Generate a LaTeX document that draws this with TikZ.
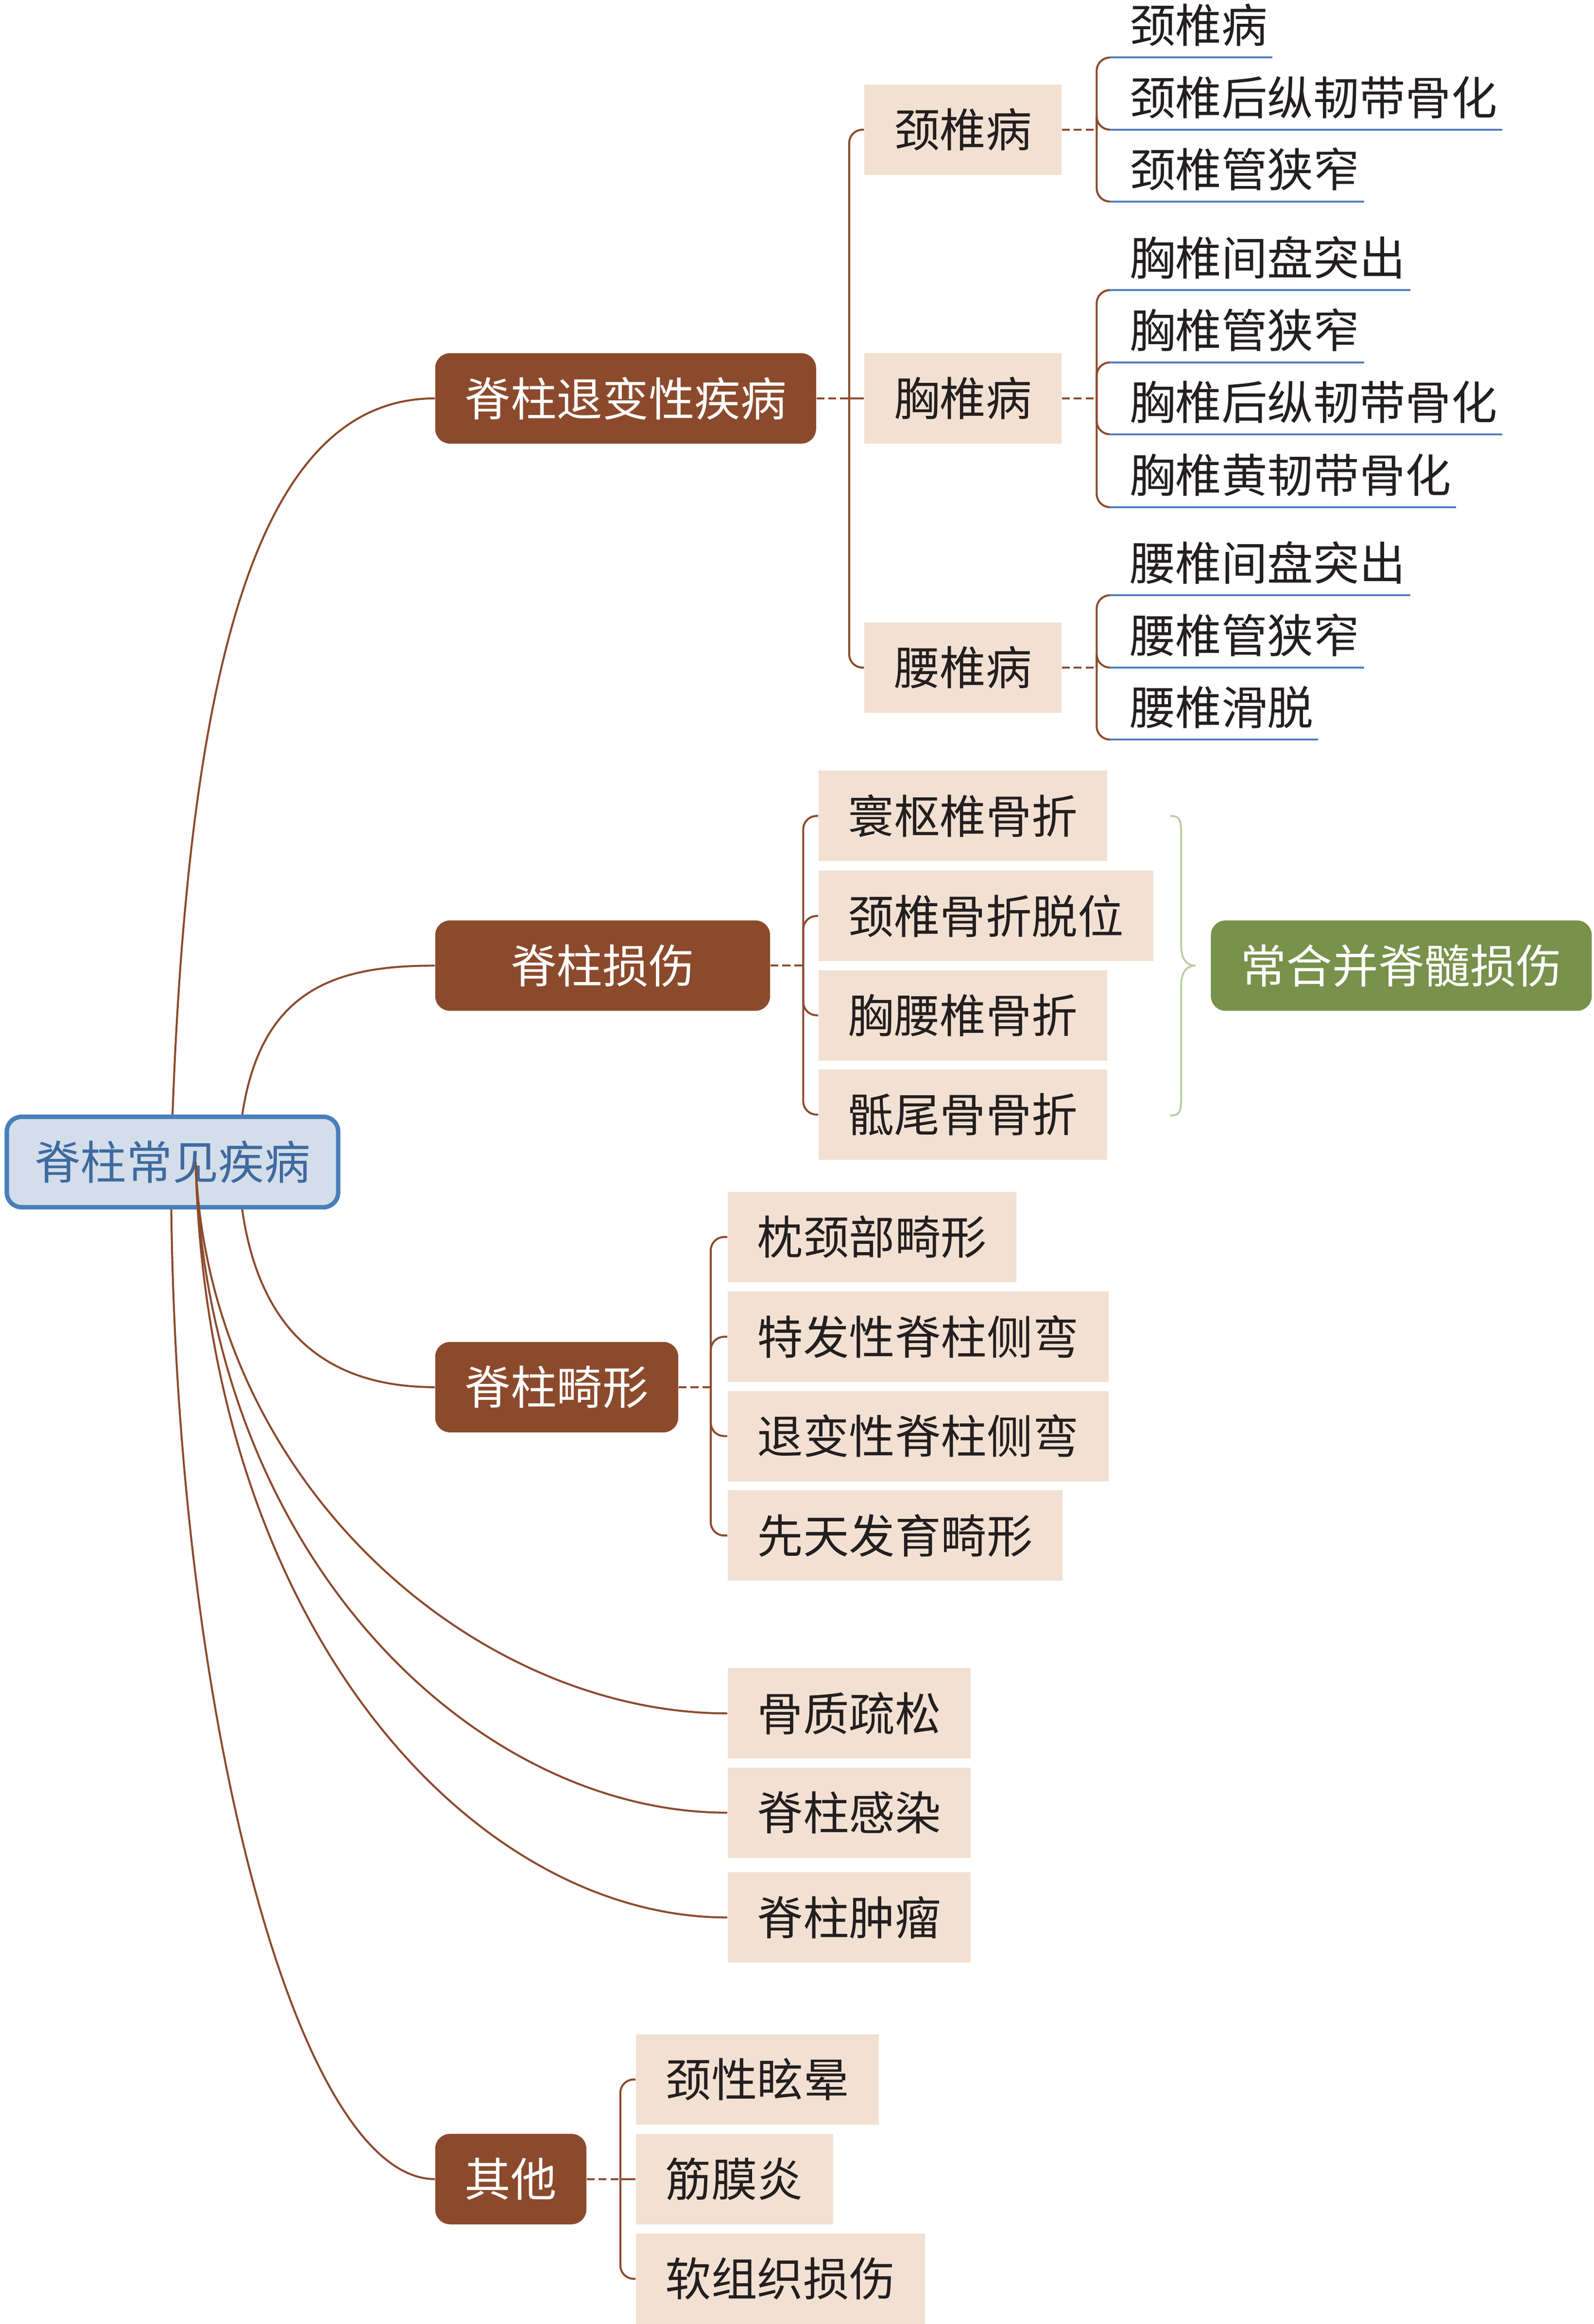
\documentclass[tikz,border=0pt]{standalone}
\usepackage{fontspec}
\newfontfamily\cjk{Noto Sans CJK SC}
\usetikzlibrary{calc,backgrounds}
\definecolor{brn}{RGB}{140,74,45}
\definecolor{bge}{RGB}{242,225,210}
\definecolor{txt}{RGB}{35,31,32}
\definecolor{ublue}{RGB}{79,129,189}
\definecolor{rfill}{RGB}{211,222,234}
\definecolor{rdraw}{RGB}{74,126,187}
\definecolor{rtext}{RGB}{63,106,160}
\definecolor{grn}{RGB}{120,145,75}
\definecolor{brc}{RGB}{184,204,160}
\newcommand\cjkf{\cjk\fontsize{23.25pt}{24pt}\selectfont}
\newcommand\mkleaf[4]{%
  \node[leaf] (#1) at (762,{#2-10}) {#3};
  \draw[uline] (749,#2) -- ($(#1.base east)+(3,10)$);
  \draw[bconn] (#4) |- (749,#2);
}
\begin{document}
\begin{tikzpicture}[x=0.75pt,y=-0.75pt,
  basebox/.style={font=\cjkf, inner xsep=15pt, inner ysep=0pt, minimum height=45.75pt, anchor=west},
  lone/.style={basebox, fill=brn, text=white, rounded corners=7.5pt},
  ltwo/.style={basebox, fill=bge, text=txt},
  rootbox/.style={basebox, inner xsep=14.1pt, fill=rfill, draw=rdraw, line width=2.25pt, text=rtext, rounded corners=7.5pt},
  grnbox/.style={basebox, fill=grn, text=white, rounded corners=7.5pt},
  leaf/.style={font=\cjkf, inner sep=0pt, anchor=base west, text=txt},
  conn/.style={draw=brn, line width=1pt},
  bconn/.style={conn, rounded corners=6.75pt},
  dashc/.style={draw=brn, line width=1pt, dash pattern=on 4pt off 2pt},
  uline/.style={draw=ublue, line width=1pt},
  bracestyle/.style={draw=brc, line width=0.9pt},
]
\useasboundingbox (0,0) rectangle (1075.3,1568);

% root
\node[rootbox] (root) at (3.1,784) {脊柱常见疾病};
\coordinate (rA) at (115.4,784);
\coordinate (rB) at (160.6,784);
\coordinate (rC) at (132,784);

% level 1
\node[lone] (deg) at (293.4,268.8) {脊柱退变性疾病};
\node[lone, minimum width=169.5pt] (inj) at (293.4,651.5) {脊柱损伤};
\node[lone] (def) at (293.4,935.9) {脊柱畸形};
\node[lone] (oth) at (293.4,1470.2) {其他};
\node[ltwo] (osp) at (490.7,1156) {骨质疏松};
\node[ltwo] (inf) at (490.7,1223) {脊柱感染};
\node[ltwo] (tum) at (490.7,1293.7) {脊柱肿瘤};

% curves from root
\begin{pgfonlayer}{background}
\draw[conn] (rA) .. controls (125,430) and (180,268.8) .. (deg.west);
\draw[conn] (rB) .. controls (165,670) and (220,651.5) .. (inj.west);
\draw[conn] (rB) .. controls (165,898) and (220,935.9) .. (def.west);
\draw[conn] (rA) .. controls (115,1150) and (200,1470.2) .. (oth.west);
\end{pgfonlayer}
\draw[conn] (rC) .. controls (140,1000) and (320,1156) .. (osp.west);
\draw[conn] (rC) .. controls (140,1050) and (320,1223) .. (inf.west);
\draw[conn] (rC) .. controls (140,1100) and (320,1293.7) .. (tum.west);

% degenerative group
\node[ltwo] (jz) at (583,87.5) {颈椎病};
\node[ltwo] (xz) at (583,268.8) {胸椎病};
\node[ltwo] (yz) at (583,450.4) {腰椎病};
\coordinate (sD) at (573,268.8);
\draw[dashc] (deg.east) -- (sD);
\draw[bconn] (sD) |- (jz.west);
\draw[conn] (sD) -- (xz.west);
\draw[bconn] (sD) |- (yz.west);

\coordinate (sJ) at (740,87.5);
\draw[dashc] (jz.east) -- (sJ);
\mkleaf{j1}{38.8}{颈椎病}{sJ}
\mkleaf{j2}{87.5}{颈椎后纵韧带骨化}{sJ}
\mkleaf{j3}{136}{颈椎管狭窄}{sJ}

\coordinate (sX) at (740,268.8);
\draw[dashc] (xz.east) -- (sX);
\mkleaf{x1}{195.7}{胸椎间盘突出}{sX}
\mkleaf{x2}{244.5}{胸椎管狭窄}{sX}
\mkleaf{x3}{293}{胸椎后纵韧带骨化}{sX}
\mkleaf{x4}{342.2}{胸椎黄韧带骨化}{sX}

\coordinate (sY) at (740,450.4);
\draw[dashc] (yz.east) -- (sY);
\mkleaf{y1}{401.6}{腰椎间盘突出}{sY}
\mkleaf{y2}{450.4}{腰椎管狭窄}{sY}
\mkleaf{y3}{499}{腰椎滑脱}{sY}

% injury group
\node[ltwo] (i1) at (552,550.5) {寰枢椎骨折};
\node[ltwo] (i2) at (552,618) {颈椎骨折脱位};
\node[ltwo] (i3) at (552,685) {胸腰椎骨折};
\node[ltwo] (i4) at (552,752) {骶尾骨骨折};
\coordinate (sI) at (542,651.5);
\draw[dashc] (inj.east) -- (sI);
\foreach \c in {i1,i2,i3,i4} \draw[bconn] (sI) |- (\c.west);

\node[grnbox] (sci) at (816.8,651.5) {常合并脊髓损伤};
\draw[bracestyle] (789.6,550.5) .. controls (796,550.5) and (797,553) .. (797,562)
  -- (797,638) .. controls (797,646) and (800,651.5) .. (806.7,651.5)
  .. controls (800,651.5) and (797,657) .. (797,665)
  -- (797,741) .. controls (797,750) and (796,752.6) .. (789.6,752.6);

% deformity group
\node[ltwo] (f1) at (490.7,834.6) {枕颈部畸形};
\node[ltwo] (f2) at (490.7,901.9) {特发性脊柱侧弯};
\node[ltwo] (f3) at (490.7,968.9) {退变性脊柱侧弯};
\node[ltwo] (f4) at (490.7,1036) {先天发育畸形};
\coordinate (sF) at (479.6,935.9);
\draw[dashc] (def.east) -- (sF);
\foreach \c in {f1,f2,f3,f4} \draw[bconn] (sF) |- (\c.west);

% others group
\node[ltwo] (o1) at (428.8,1403) {颈性眩晕};
\node[ltwo] (o2) at (428.8,1470.2) {筋膜炎};
\node[ltwo] (o3) at (428.8,1537.5) {软组织损伤};
\coordinate (sO) at (418.6,1470.2);
\draw[dashc] (oth.east) -- (sO);
\draw[bconn] (sO) |- (o1.west);
\draw[conn] (sO) -- (o2.west);
\draw[bconn] (sO) |- (o3.west);
\end{tikzpicture}
\end{document}
